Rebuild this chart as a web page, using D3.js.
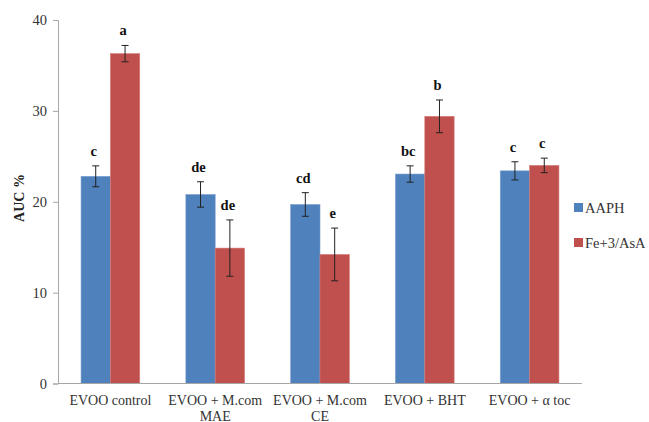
<!DOCTYPE html>
<html>
<head>
<meta charset="utf-8">
<script src="https://cdn.jsdelivr.net/npm/d3@7"></script>
<style>
body { margin: 0; background: #fff; }
svg text { font-family: "Liberation Serif", "Times New Roman", serif !important; }
</style>
</head>
<body>
<div id="chart"></div>
<script>
var categories = [["EVOO control"], ["EVOO + M.com", "MAE"], ["EVOO + M.com", "CE"], ["EVOO + BHT"], ["EVOO + \u03b1 toc"]];
var seriesNames = ["AAPH", "Fe+3/AsA"];
var aaph = [22.8, 20.8, 19.7, 23.05, 23.4];
var aaphErr = [1.15, 1.4, 1.3, 0.9, 1.0];
var aaphLetters = ["c", "de", "cd", "bc", "c"];
var fe = [36.3, 14.9, 14.2, 29.4, 24.0];
var feErr = [0.9, 3.1, 2.9, 1.8, 0.8];
var feLetters = ["a", "de", "e", "b", "c"];
var yTicks = [0, 10, 20, 30, 40];
var colors = ["#4f81bd", "#c0504d"];

drawChart("chart");

function drawChart(container){
	var width = 649, height = 422;
	var margin = { top: 20, left: 58, right: 67, bottom: 38.5 };

	var svg = d3.select("#" + container).append("svg")
		.attr("width", width)
		.attr("height", height)
		.attr("font-family", "Liberation Serif, serif");

	var x = d3.scaleBand()
		.domain(d3.range(categories.length))
		.range([margin.left, width - margin.right])
		.paddingInner(0.44)
		.paddingOuter(0.22);
	var xs = d3.scaleBand()
		.domain(d3.range(seriesNames.length))
		.range([0, x.bandwidth()]);
	var y = d3.scaleLinear()
		.domain([0, 40])
		.range([height - margin.bottom, margin.top]);

	// y axis
	var yAxis = svg.append("g")
		.attr("transform", "translate(" + margin.left + ",0)")
		.call(d3.axisLeft(y).tickValues(yTicks).tickSize(5).tickPadding(6));
	yAxis.attr("font-family", null);
	yAxis.select(".domain").attr("stroke", "#a6a6a6");
	yAxis.selectAll(".tick line").attr("stroke", "#a6a6a6");
	yAxis.selectAll(".tick text").attr("font-size", 14.5).attr("fill", "#333");

	svg.append("text")
		.attr("transform", "translate(24," + 198 + ") rotate(-90)")
		.attr("text-anchor", "middle")
		.attr("font-size", 14)
		.attr("font-weight", "bold")
		.attr("fill", "#222")
		.text("AUC %");

	var series = [
		{ vals: aaph, err: aaphErr, letters: aaphLetters },
		{ vals: fe, err: feErr, letters: feLetters }
	];

	series.forEach(function(s, si){
		var g = svg.append("g");
		g.selectAll("rect")
			.data(s.vals)
			.enter().append("rect")
			.attr("x", function(d, i){ return x(i) + xs(si); })
			.attr("y", function(d){ return y(d); })
			.attr("width", xs.bandwidth())
			.attr("height", function(d){ return y(0) - y(d); })
			.attr("fill", colors[si])
			.attr("stroke", si == 0 ? "#7d9fd0" : "#d47b78")
			.attr("stroke-width", 0.6);

		var cx = function(i){ return x(i) + xs(si) + xs.bandwidth() / 2; };
		var eb = g.selectAll(".err")
			.data(s.vals)
			.enter().append("g");
		eb.append("line")
			.attr("x1", function(d, i){ return cx(i); })
			.attr("x2", function(d, i){ return cx(i); })
			.attr("y1", function(d, i){ return y(d - s.err[i]); })
			.attr("y2", function(d, i){ return y(d + s.err[i]); })
			.attr("stroke", "#222").attr("stroke-width", 1);
		[-1, 1].forEach(function(sign){
			eb.append("line")
				.attr("x1", function(d, i){ return cx(i) - 3.5; })
				.attr("x2", function(d, i){ return cx(i) + 3.5; })
				.attr("y1", function(d, i){ return y(d + sign * s.err[i]); })
				.attr("y2", function(d, i){ return y(d + sign * s.err[i]); })
				.attr("stroke", "#222").attr("stroke-width", 1);
		});
		g.selectAll(".letter")
			.data(s.vals)
			.enter().append("text")
			.attr("x", function(d, i){ return cx(i) - 2; })
			.attr("y", function(d, i){ return y(d + s.err[i]) - 10; })
			.attr("text-anchor", "middle")
			.attr("font-size", 14.5)
			.attr("font-weight", "bold")
			.attr("fill", "#111")
			.text(function(d, i){ return s.letters[i]; });
	});

	// x axis
	svg.append("line")
		.attr("x1", margin.left).attr("x2", width - margin.right)
		.attr("y1", y(0)).attr("y2", y(0))
		.attr("stroke", "#a6a6a6");

	var xl = svg.selectAll(".xlabel")
		.data(categories)
		.enter().append("text")
		.attr("text-anchor", "middle")
		.attr("font-size", 14)
		.attr("fill", "#333")
		.attr("transform", function(d, i){ return "translate(" + (x(i) + x.bandwidth() / 2) + ",405)"; });
	xl.selectAll("tspan")
		.data(function(d){ return d; })
		.enter().append("tspan")
		.attr("x", 0)
		.attr("dy", function(d, i){ return i == 0 ? 0 : 15.5; })
		.text(function(d){ return d; });

	// legend
	var lg = svg.selectAll(".legend")
		.data(seriesNames)
		.enter().append("g")
		.attr("transform", function(d, i){ return "translate(574," + (203 + i * 35) + ")"; });
	lg.append("rect")
		.attr("width", 9).attr("height", 9)
		.attr("fill", function(d, i){ return colors[i]; });
	lg.append("text")
		.attr("x", 11).attr("y", 9.5)
		.attr("font-size", 14.5)
		.attr("fill", "#333")
		.text(function(d){ return d; });
}
</script>
</body>
</html>
